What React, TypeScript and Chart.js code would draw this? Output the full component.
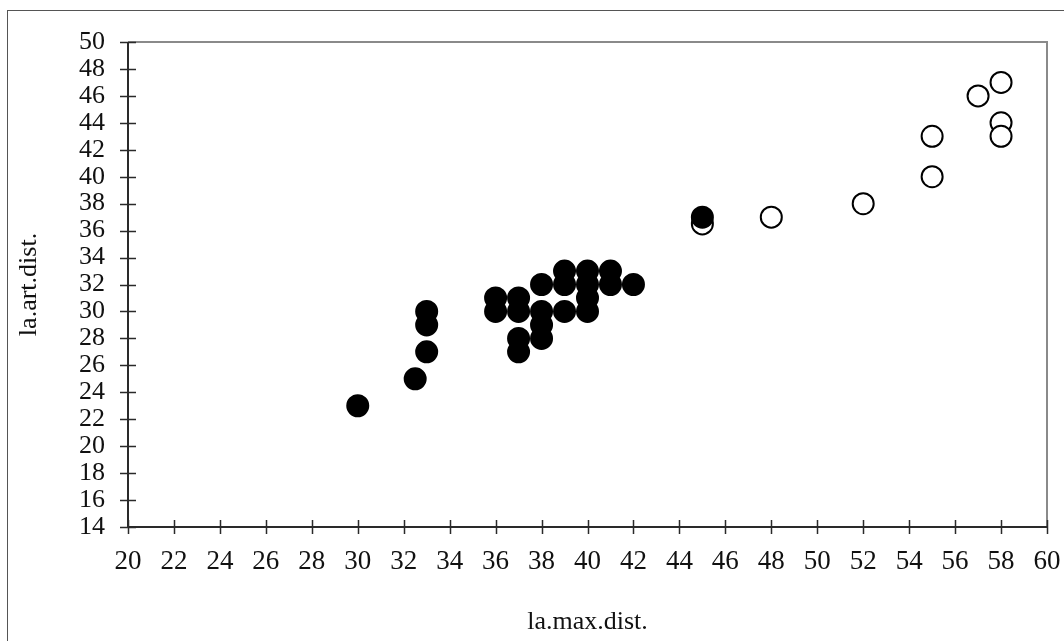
import React, { useEffect, useRef } from 'react';
import { Chart, registerables } from 'chart.js';

Chart.register(...registerables);

// Axis settings
const X_MIN = 20;
const X_MAX = 60;
const X_STEP = 2;
const Y_MIN = 14;
const Y_MAX = 50;
const Y_STEP = 2;
const X_TITLE = 'la.max.dist.';
const Y_TITLE = 'la.art.dist.';

// Filled series
const filledX = [30, 32.5, 33, 33, 33, 36, 36, 37, 37, 37, 37, 38, 38, 38, 38, 39, 39, 39, 40, 40, 40, 40, 41, 41, 42, 45];
const filledY = [23, 25, 27, 29, 30, 30, 31, 27, 28, 30, 31, 28, 29, 30, 32, 30, 32, 33, 30, 31, 32, 33, 32, 33, 32, 37];

// Open series
const openX = [45, 48, 52, 55, 55, 57, 58, 58, 58];
const openY = [36.5, 37, 38, 40, 43, 46, 47, 44, 43];

const FONT = '"Liberation Serif", "Times New Roman", serif';

const framePlugin = {
  id: 'frame',
  beforeDraw(chart: any) {
    const { ctx, width, height } = chart;
    ctx.save();
    ctx.fillStyle = '#ffffff';
    ctx.fillRect(0, 0, width, height);
    ctx.strokeStyle = '#555555';
    ctx.lineWidth = 1;
    ctx.strokeRect(7.5, 10.5, width + 100, height + 100);
    ctx.restore();
  },
  beforeDatasetsDraw(chart: any) {
    const { ctx, chartArea } = chart;
    const { left, right, top, bottom } = chartArea;
    const xs = chart.scales.x;
    const ys = chart.scales.y;
    ctx.save();
    ctx.lineCap = 'butt';
    // top & right frame (gray)
    ctx.strokeStyle = '#8a8a8a';
    ctx.lineWidth = 2;
    ctx.beginPath();
    ctx.moveTo(left, top);
    ctx.lineTo(right, top);
    ctx.lineTo(right, bottom);
    ctx.stroke();
    // left & bottom axes (dark)
    ctx.strokeStyle = '#2a2a2a';
    ctx.lineWidth = 2;
    ctx.beginPath();
    ctx.moveTo(left, top);
    ctx.lineTo(left, bottom);
    ctx.lineTo(right, bottom);
    ctx.stroke();
    // tick marks crossing the axes
    ctx.lineWidth = 1.5;
    ctx.beginPath();
    xs.ticks.forEach((t: any) => {
      const px = Math.round(xs.getPixelForValue(t.value)) + 0.5;
      ctx.moveTo(px, bottom - 7);
      ctx.lineTo(px, bottom + 7);
    });
    ys.ticks.forEach((t: any) => {
      const py = Math.round(ys.getPixelForValue(t.value)) + 0.5;
      ctx.moveTo(left - 8, py);
      ctx.lineTo(left + 8, py);
    });
    ctx.stroke();
    ctx.restore();
  },
};

export default function App() {
  const ref = useRef<HTMLCanvasElement | null>(null);

  useEffect(() => {
    if (!ref.current) return;
    const chart = new Chart(ref.current, {
      type: 'scatter',
      data: {
        datasets: [
          {
            label: 'filled',
            data: filledX.map((x, i) => ({ x, y: filledY[i] })),
            pointRadius: 10.5,
            pointHoverRadius: 10.5,
            pointBackgroundColor: '#000000',
            pointBorderColor: '#000000',
            pointBorderWidth: 2,
            showLine: false,
          },
          {
            label: 'open',
            data: openX.map((x, i) => ({ x, y: openY[i] })),
            pointRadius: 10.5,
            pointHoverRadius: 10.5,
            pointBackgroundColor: '#ffffff',
            pointBorderColor: '#000000',
            pointBorderWidth: 2,
            showLine: false,
          },
        ],
      },
      options: {
        responsive: false,
        animation: false,
        layout: { padding: { left: 0, top: 42, right: 17, bottom: 0 } },
        plugins: {
          legend: { display: false },
          tooltip: { enabled: false },
        },
        scales: {
          x: {
            type: 'linear',
            min: X_MIN,
            max: X_MAX,
            grid: { display: false, drawTicks: false },
            border: { display: false },
            ticks: {
              stepSize: X_STEP,
              padding: 19,
              color: '#111111',
              font: { family: FONT, size: 27 },
              maxRotation: 0,
              autoSkip: false,
            },
            title: {
              display: true,
              text: X_TITLE,
              color: '#111111',
              font: { family: FONT, size: 26 },
              padding: { top: 0, bottom: 3 },
            },
            afterFit: (scale: any) => {
              scale.height = 114;
              scale.paddingLeft = 0;
              scale.paddingRight = 0;
            },
          },
          y: {
            type: 'linear',
            min: Y_MIN,
            max: Y_MAX,
            grid: { display: false, drawTicks: false },
            border: { display: false },
            ticks: {
              stepSize: Y_STEP,
              padding: 23,
              color: '#111111',
              font: { family: FONT, size: 26 },
              autoSkip: false,
            },
            title: {
              display: true,
              text: Y_TITLE,
              color: '#111111',
              font: { family: FONT, size: 26 },
              padding: { top: 14, bottom: 0 },
            },
            afterFit: (scale: any) => {
              scale.width = 128;
              scale.paddingTop = 0;
              scale.paddingBottom = 0;
            },
          },
        },
      },
      plugins: [framePlugin],
    });
    return () => chart.destroy();
  }, []);

  return (
    <div style={{ position: 'fixed', left: 0, top: 0, width: 1064, height: 641, background: '#fff' }}>
      <canvas ref={ref} width={1064} height={641} style={{ display: 'block', width: 1064, height: 641 }} />
    </div>
  );
}
